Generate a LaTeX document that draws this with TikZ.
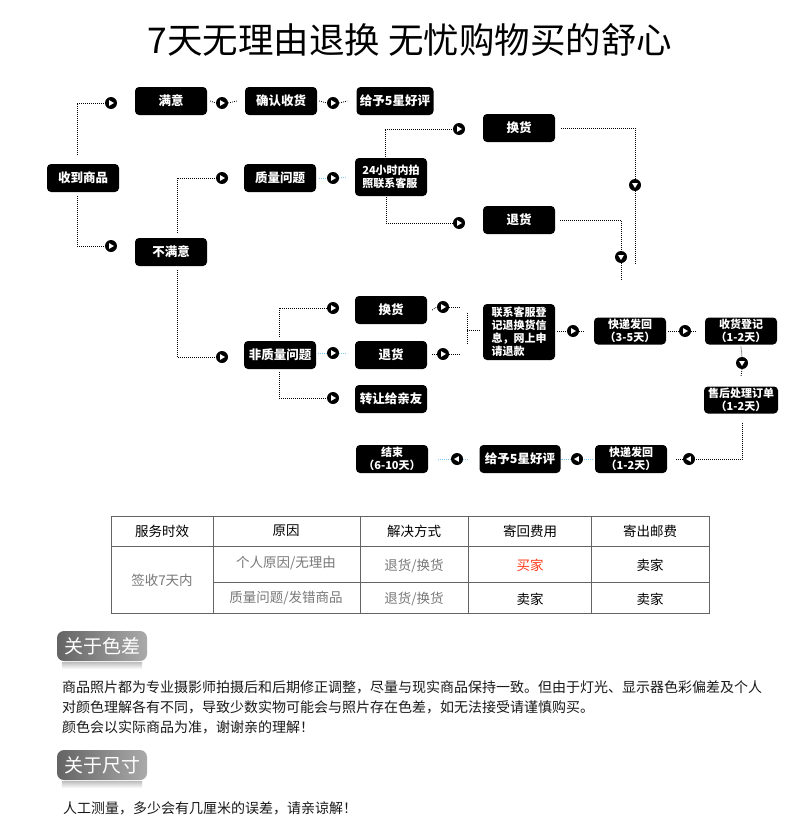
\documentclass[tikz,border=0pt]{standalone}
\usepackage{fontspec}
\setmainfont{Noto Sans CJK SC}
\usetikzlibrary{positioning}
\definecolor{linkblue}{RGB}{125,200,240}
\definecolor{tablegray}{RGB}{100,100,100}
\definecolor{cellgray}{RGB}{120,120,120}
\definecolor{buyerred}{RGB}{255,60,30}
\definecolor{badgedark}{RGB}{100,100,100}
\definecolor{badgelight}{RGB}{170,170,170}
\tikzset{
  flow/.style={fill=black,text=white,rounded corners=4pt,minimum width=72pt,
    minimum height=28pt,inner sep=1pt,align=center,
    font=\bfseries\fontsize{12.5}{14}\selectfont},
  flowsmall/.style={flow,font=\bfseries\fontsize{11}{12.5}\selectfont},
  tipdot/.style={circle,fill=black,inner sep=0pt,minimum size=12pt},
  tipr/.style={tipdot,path picture={\fill[white]
      ([xshift=-1.8pt,yshift=2.8pt]path picture bounding box.center) --
      ([xshift=3pt]path picture bounding box.center) --
      ([xshift=-1.8pt,yshift=-2.8pt]path picture bounding box.center) -- cycle;}},
  tipl/.style={tipdot,path picture={\fill[white]
      ([xshift=1.8pt,yshift=2.8pt]path picture bounding box.center) --
      ([xshift=-3pt]path picture bounding box.center) --
      ([xshift=1.8pt,yshift=-2.8pt]path picture bounding box.center) -- cycle;}},
  tipd/.style={tipdot,path picture={\fill[white]
      ([xshift=-2.8pt,yshift=1.8pt]path picture bounding box.center) --
      ([xshift=2.8pt,yshift=1.8pt]path picture bounding box.center) --
      ([yshift=-3pt]path picture bounding box.center) -- cycle;}},
  link/.style={draw=black,line width=0.8pt,dash pattern=on 0.8pt off 1.2pt},
  bluelink/.style={link,draw=linkblue},
  badge/.style={rounded corners=7pt,minimum width=90pt,minimum height=30pt,
    inner sep=0pt,left color=badgedark,right color=badgelight,text=white,
    font=\fontsize{19}{20}\selectfont},
  para/.style={anchor=west,inner sep=0pt,text=black!90,font=\fontsize{14}{16}\selectfont},
  cell/.style={inner sep=0pt,font=\fontsize{13.5}{15}\selectfont},
}
\begin{document}
\begin{tikzpicture}[x=1pt,y=-1pt]
  \fill[white] (0,0) rectangle (790,816);
  \useasboundingbox (0,0) rectangle (790,816);
  \node[font=\fontsize{35.5}{40}\selectfont,inner sep=0pt] (title) at (410,40) {7天无理由退换 无忧购物买的舒心};
  \begin{scope}[every node/.style={flow}]
    \node (flowRecv) at (83,178) {收到商品};
    \node (flowSat) at (171,101) {满意};
    \node (flowConfirm) at (281,101) {确认收货};
    \node[minimum width=77pt] (flowGood) at (395,101) {给予5星好评};
    \node (flowUnsat) at (171,252) {不满意};
    \node (flowQual) at (280,178) {质量问题};
    \node[flowsmall,minimum height=38pt,align=left] (flowCall) at (391,177) {24小时内拍\\照联系客服};
    \node (flowSwapA) at (519,128) {换货};
    \node (flowBackA) at (519,220) {退货};
    \node (flowNonq) at (280,355) {非质量问题};
    \node (flowSwapB) at (391,310) {换货};
    \node (flowBackB) at (391,355) {退货};
    \node (flowGift) at (391,399) {转让给亲友};
    \node[flowsmall,minimum height=56pt,align=left,font=\bfseries\fontsize{11}{13}\selectfont] (flowReg) at (519,332) {联系客服登\\记退换货信\\息，网上申\\请退款};
    \node[flowsmall,minimum height=27pt] (flowShipA) at (630,331) {快递发回\\（3-5天）};
    \node[flowsmall,minimum height=27pt] (flowCheck) at (741,331) {收货登记\\（1-2天）};
    \node[flowsmall,minimum height=27pt,minimum width=74pt] (flowProc) at (741,400) {售后处理订单\\（1-2天）};
    \node[flowsmall,minimum height=28pt] (flowShipB) at (631,459) {快递发回\\（1-2天）};
    \node[minimum width=81pt] (flowGoodB) at (520,459) {给予5星好评};
    \node[flowsmall,minimum height=28pt] (flowEnd) at (392,459) {结束\\（6-10天）};
  \end{scope}
  \begin{scope}[every node/.style={tipr}]
    \node (tipSat) at (111,103) {};
    \node (tipUnsat) at (111,246) {};
    \node (tipConfirm) at (222,103) {};
    \node (tipGood) at (333,103) {};
    \node (tipQual) at (222,178) {};
    \node (tipCall) at (333,178) {};
    \node (tipSwapA) at (459,129) {};
    \node (tipBackA) at (459,223) {};
    \node (tipNonq) at (222,357) {};
    \node (tipSwapB) at (333,308) {};
    \node (tipBackB) at (333,353) {};
    \node (tipGift) at (333,398) {};
    \node (tipSwapOut) at (443,307) {};
    \node (tipBackOut) at (443,354) {};
    \node (tipShipA) at (573,331) {};
    \node (tipCheck) at (685,331) {};
    \node[tipd] (tipSwapEnd) at (635,185) {};
    \node[tipd] (tipBackEnd) at (621,257) {};
    \node[tipd] (tipProc) at (742,363) {};
    \node[tipl] (tipShipB) at (689,459) {};
    \node[tipl] (tipGoodB) at (577,459) {};
    \node[tipl] (tipEnd) at (457,459) {};
  \end{scope}
  \coordinate (swapEnd) at (635,265);
  \coordinate (backEnd) at (621,280);
  \coordinate (joinA) at (460,307);
  \coordinate (joinB) at (460,354);
  \coordinate (joinTop) at (467,313);
  \coordinate (joinBottom) at (467,344);
  \coordinate (joinMid) at (467,330);
  \begin{scope}[every path/.style={link}]
    \path ([xshift=-6pt,yshift=9pt]flowRecv.north) |- (tipSat.west);
    \path ([xshift=-6pt,yshift=-4pt]flowRecv.south) |- (tipUnsat.west);
    \path ([xshift=3pt]flowSat.east) -- (tipConfirm.west);
    \path (tipConfirm.east) -- ([xshift=-8pt]flowConfirm.west);
    \path ([xshift=2pt]flowConfirm.east) -- (tipGood.west);
    \path (tipGood.east) -- ([xshift=-9pt]flowGood.west);
    \path ([xshift=6pt,yshift=5pt]flowUnsat.north) |- (tipQual.west);
    \path ([xshift=-6pt,yshift=1pt]flowCall.north) |- (tipSwapA.west);
    \path ([xshift=-5pt,yshift=-1pt]flowCall.south) |- (tipBackA.west);
    \path ([xshift=6pt]flowSwapA.east) -| (tipSwapEnd.north);
    \path (tipSwapEnd.south) -- (swapEnd);
    \path ([xshift=5pt]flowBackA.east) -| (tipBackEnd.north);
    \path (tipBackEnd.south) -- (backEnd);
    \path ([xshift=6pt,yshift=-4pt]flowUnsat.south) |- (tipNonq.west);
    \path ([xshift=-1pt,yshift=4pt]flowNonq.north) |- (tipSwapB.west);
    \path ([xshift=-1pt,yshift=-3pt]flowNonq.south) |- (tipGift.west);
    \path ([xshift=5pt]flowSwapB.east) -- (tipSwapOut.west);
    \path (tipSwapOut.east) -- (joinA);
    \path ([xshift=5pt]flowBackB.east |- tipBackOut) -- (tipBackOut.west);
    \path (tipBackOut.east) -- (joinB);
    \path (joinTop) -- (joinBottom);
    \path (joinMid) -- ([xshift=-3pt]flowReg.west |- joinMid);
    \path ([xshift=2pt]flowReg.east |- tipShipA) -- (tipShipA.west);
    \path (tipShipA.east) -- ([xshift=-9pt]flowShipA.west);
    \path ([xshift=2pt]flowShipA.east) -- (tipCheck.west);
    \path (tipCheck.east) -- ([xshift=-8pt]flowCheck.west);
    \path ([yshift=-2pt]flowCheck.south) -- (tipProc.north);
    \path (tipProc.south) -- ([yshift=10pt]flowProc.north);
    \path ([xshift=1pt,yshift=-9pt]flowProc.south) |- (tipShipB.east);
    \path (tipShipB.west) -- ([xshift=8pt]flowShipB.east);
  \end{scope}
  \begin{scope}[every path/.style={bluelink}]
    \path ([xshift=3pt]flowQual.east) -- (tipCall.west);
    \path (tipCall.east) -- ([xshift=-8pt]flowCall.west);
    \path ([xshift=2pt]flowNonq.east |- tipBackB) -- (tipBackB.west);
    \path (tipBackB.east) -- ([xshift=-8pt]flowBackB.west |- tipBackB);
    \path ([xshift=-2pt]flowShipB.west) -- (tipGoodB.east);
    \path (tipGoodB.west) -- (flowGoodB.east);
    \path ([xshift=-12pt]flowGoodB.west) -- (tipEnd.east);
    \path (tipEnd.west) -- ([xshift=10pt]flowEnd.east);
  \end{scope}
  \begin{scope}[tablegray,line width=0.9pt]
    \draw (111,516) rectangle (709,613);
    \draw (111,546) -- (709,546);
    \draw (213,582) -- (709,582);
    \foreach \x in {213,360,468,591}
      \draw (\x,516) -- (\x,613);
  \end{scope}
  \begin{scope}[every node/.style={cell}]
    \node (headTime) at (162,531) {服务时效};
    \node (headCause) at (286,531) {原因};
    \node (headWay) at (414,531) {解决方式};
    \node (headBack) at (530,531) {寄回费用};
    \node (headOut) at (650,531) {寄出邮费};
    \node[text=cellgray] (cellTime) at (162,580) {签收7天内};
    \node[text=cellgray] (cellCauseA) at (286,563) {个人原因/无理由};
    \node[text=cellgray] (cellWayA) at (414,566) {退货/换货};
    \node[text=buyerred] (cellBackA) at (530,565) {买家};
    \node (cellOutA) at (650,565) {卖家};
    \node[text=cellgray] (cellCauseB) at (286,598) {质量问题/发错商品};
    \node[text=cellgray] (cellWayB) at (414,599) {退货/换货};
    \node (cellBackB) at (530,599) {卖家};
    \node (cellOutB) at (650,599) {卖家};
  \end{scope}
  \node[badge] (tagColor) at (102,646) {关于色差};
  \fill[top color=black!25,bottom color=white] ([xshift=5pt,yshift=-1pt]tagColor.south west) rectangle ([xshift=-5pt,yshift=-8pt]tagColor.south east);
  \node[para] (noteA) at (62,687) {商品照片都为专业摄影师拍摄后和后期修正调整，尽量与现实商品保持一致。但由于灯光、显示器色彩偏差及个人};
  \node[para] (noteB) at (62,707) {对颜色理解各有不同，导致少数实物可能会与照片存在色差，如无法接受请谨慎购买。};
  \node[para] (noteC) at (62,727) {颜色会以实际商品为准，谢谢亲的理解！};
  \node[badge] (tagSize) at (102,765) {关于尺寸};
  \fill[top color=black!25,bottom color=white] ([xshift=5pt,yshift=-1pt]tagSize.south west) rectangle ([xshift=-5pt,yshift=-8pt]tagSize.south east);
  \node[para] (noteSize) at (63,808) {人工测量，多少会有几厘米的误差，请亲谅解！};
\end{tikzpicture}
\end{document}
